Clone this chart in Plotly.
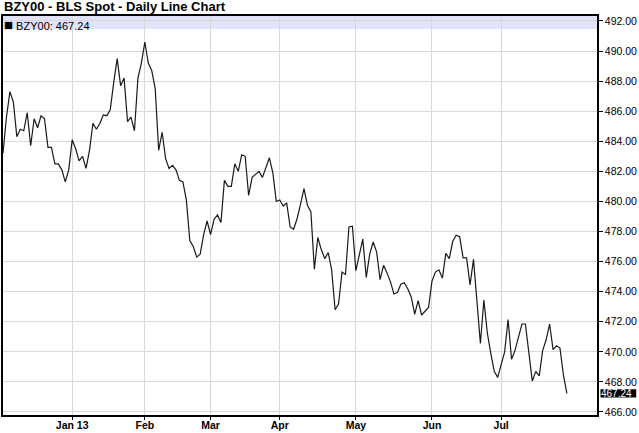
import plotly.graph_objects as go

# Daily closing values (trading days, Dec 3 2012 .. Jul 2013)
values = [
    483.2, 485.6, 487.3, 486.6, 484.3, 484.8, 484.7, 485.9, 483.7, 485.5,
    484.9, 485.7, 485.5, 483.6, 483.6, 482.5, 482.5, 482.1, 481.3, 482.1,
    484.1, 483.5, 482.7, 483.0, 482.2, 483.4, 485.2, 484.8, 485.2, 485.75,
    485.7, 486.1, 487.9, 489.5, 487.7, 488.2, 485.3, 485.6, 484.7, 488.2,
    489.2, 490.6, 489.2, 488.7, 487.5, 483.4, 484.6, 482.85, 482.2, 482.4,
    482.1, 481.4, 481.3, 480.1, 477.4, 477.0, 476.3, 476.5, 477.8, 478.7,
    477.8, 478.8, 479.1, 478.6, 481.4, 481.0, 481.0, 482.5, 482.0, 483.1,
    483.0, 480.4, 481.6, 481.8, 482.0, 481.6, 482.3, 482.9, 481.9, 480.0,
    480.1, 479.7, 479.9, 478.3, 478.15, 478.85, 479.8, 480.85, 479.75, 479.3,
    475.5, 477.6, 476.8, 476.2, 476.6, 475.45, 472.8, 473.2, 475.3, 475.15,
    478.3, 478.35, 475.4, 476.4, 477.5, 474.95, 476.5, 477.3, 476.65, 474.8,
    475.75, 475.25, 474.65, 473.85, 473.95, 474.5, 474.6, 474.2, 473.65, 472.5,
    473.4, 472.45, 472.7, 472.95, 474.7, 475.3, 475.45, 474.9, 476.55, 476.2,
    477.35, 477.75, 477.65, 476.25, 476.25, 474.45, 476.15, 473.25, 470.55, 473.45,
    471.25, 469.9, 468.7, 468.3, 469.2, 470.0, 472.15, 469.5, 470.1, 471.0,
    471.85, 471.85, 469.9, 468.05, 468.7, 468.4, 470.1, 470.8, 471.85, 470.15,
    470.4, 470.25, 468.45, 467.24,
]

# Index of the first trading day of each month and its label
month_idx = [20, 41, 60, 80, 102, 124, 144]
month_labels = ["Jan 13", "Feb", "Mar", "Apr", "May", "Jun", "Jul"]

y_ticks = list(range(466, 493, 2))
symbol = "BZY00"
title = "BZY00 - BLS Spot - Daily Line Chart"

x = list(range(len(values)))
last = values[-1]

FONT = "Liberation Sans, Arial, sans-serif"

fig = go.Figure()
fig.add_trace(go.Scatter(
    x=x, y=values, mode="lines",
    line=dict(color="#1a1a1a", width=1.2),
    hoverinfo="x+y", showlegend=False,
))

fig.update_layout(
    width=639, height=433,
    margin=dict(l=3, r=42, t=16, b=18, autoexpand=False),
    paper_bgcolor="white", plot_bgcolor="white",
    font=dict(family=FONT, size=11, color="#000"),
    showlegend=False,
)

fig.update_xaxes(
    range=[0, 171.7],
    tickvals=month_idx, ticktext=month_labels,
    tickfont=dict(family=FONT, size=10.5, color="#000", weight="bold"),
    ticks="outside", ticklen=3, tickcolor="#000", tickwidth=1,
    ticklabelstandoff=-3,
    showgrid=True, gridcolor="#d9d9d9", gridwidth=1,
    showline=True, linecolor="#000", linewidth=1.5, mirror=True,
    zeroline=False, automargin=False,
)
fig.update_yaxes(
    range=[465.8, 492.33], side="right",
    tickvals=y_ticks, tickformat=".2f",
    tickfont=dict(family=FONT, size=10.5, color="#000"),
    ticks="outside", ticklen=4, tickcolor="#000", tickwidth=1,
    showgrid=True, gridcolor="#d9d9d9", gridwidth=1,
    showline=True, linecolor="#000", linewidth=1.5, mirror=True,
    zeroline=False, automargin=False,
)

# Lavender legend band at the top of the plot area
fig.add_shape(type="rect", xref="x", yref="y", x0=-5, x1=200, y0=491.47, y1=493,
              fillcolor="#e2e2fa", line=dict(width=0), layer="below")

# Title
fig.add_annotation(xref="paper", yref="paper", x=0, y=1, xanchor="left", yanchor="bottom",
                   xshift=-1, text="<b>" + title + "</b>", showarrow=False,
                   font=dict(family=FONT, size=13, color="#000"))
# Legend text
fig.add_annotation(xref="paper", yref="paper", x=0, y=1, xanchor="left", yanchor="top",
                   xshift=0, yshift=1,
                   text="<span style='font-size:15px'>\u25a0</span> %s: %.2f" % (symbol, last),
                   showarrow=False, borderpad=0,
                   font=dict(family=FONT, size=11, color="#000"))

# Last value marker on the right axis
fig.add_shape(type="rect", xref="paper", yref="y", x0=1.0059, x1=1.066,
              y0=last - 0.28, y1=last + 0.28, fillcolor="#000", line=dict(width=0), layer="above")
fig.add_annotation(xref="paper", yref="y", x=1, y=last, xanchor="left", yanchor="middle",
                   xshift=3, text="%.2f" % last, showarrow=False, borderpad=0,
                   font=dict(family=FONT, size=10, color="#fff"))

fig.write_html("out.html", config={"displayModeBar": False},
               post_script="document.body.style.margin='0';document.body.style.padding='0';")
